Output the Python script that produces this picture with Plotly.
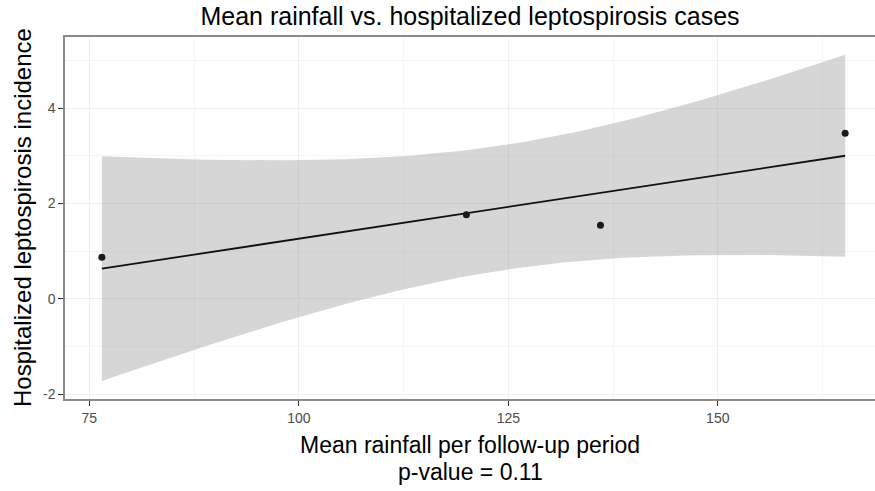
import numpy as np
import plotly.graph_objects as go

# Data
rainfall = [76.5, 120.0, 136.0, 165.2]
incidence = [0.87, 1.76, 1.54, 3.47]

x_ticks = [75, 100, 125, 150]
y_ticks = [-2, 0, 2, 4]

title_text = "Mean rainfall vs. hospitalized leptospirosis cases"
x_title_1 = "Mean rainfall per follow-up period"
x_title_2 = "p-value = 0.11"
y_title = "Hospitalized leptospirosis incidence"

# Linear model fit with 95% confidence band (as geom_smooth(method="lm"))
x = np.array(rainfall)
y = np.array(incidence)
n = len(x)
slope, intercept = np.polyfit(x, y, 1)
resid = y - (intercept + slope * x)
s = np.sqrt(np.sum(resid ** 2) / (n - 2))
sxx = np.sum((x - x.mean()) ** 2)
t_crit = 4.302653  # t(0.975, df=2)
xg = np.linspace(x.min(), x.max(), 80)
yg = intercept + slope * xg
se = s * np.sqrt(1 / n + (xg - x.mean()) ** 2 / sxx)
upper = yg + t_crit * se
lower = yg - t_crit * se

W, H = 875, 491
fig = go.Figure()
fig.add_trace(go.Scatter(
    x=np.concatenate([xg, xg[::-1]]), y=np.concatenate([upper, lower[::-1]]),
    fill="toself", fillcolor="rgba(153,153,153,0.4)", line=dict(width=0),
    mode="lines", hoverinfo="skip", showlegend=False))
fig.add_trace(go.Scatter(x=xg, y=yg, mode="lines",
                         line=dict(color="#111111", width=1.8), showlegend=False))
fig.add_trace(go.Scatter(x=rainfall, y=incidence, mode="markers",
                         marker=dict(color="#1a1a1a", size=7), showlegend=False))

FONT = "Liberation Sans, Arial, sans-serif"
axis_font = dict(family=FONT, size=14, color="#4D4D4D")
lab_font = dict(family=FONT, size=23, color="black")

fig.add_annotation(text=x_title_1, xref="paper", yref="paper", x=0.5, xanchor="center",
                   y=1 - (445 - 37) / (399 - 37), yanchor="middle", showarrow=False,
                   font=lab_font)
fig.add_annotation(text=x_title_2, xref="paper", yref="paper", x=0.5, xanchor="center",
                   y=1 - (472 - 37) / (399 - 37), yanchor="middle", showarrow=False,
                   font=lab_font)
fig.add_annotation(text=y_title, xref="paper", yref="paper", x=-(65 - 22) / (W - 65),
                   xanchor="center", y=0.5, yanchor="middle", textangle=-90,
                   showarrow=False, font=dict(family=FONT, size=24, color="black"))

fig.update_layout(
    width=W, height=H,
    margin=dict(l=65, r=0, t=37, b=92),
    paper_bgcolor="white", plot_bgcolor="white",
    font=dict(family=FONT, color="black"),
    title=dict(text=title_text, x=0.5, xanchor="center", xref="paper",
               y=1 - 16 / H, yref="container", yanchor="middle",
               font=dict(family=FONT, size=25, color="black")),
    xaxis=dict(range=[72.1, 168.76], tickvals=x_ticks, ticktext=[str(v) for v in x_ticks],
               showline=True, linecolor="#8a8a8a", linewidth=1.5, mirror=True,
               ticks="outside", ticklen=5, tickcolor="#333333", tickwidth=1.2,
               tickfont=axis_font, showgrid=True, gridcolor="#EFEFEF", gridwidth=1,
               minor=dict(dtick=12.5, tick0=87.5, showgrid=True, gridcolor="#F6F6F6"),
               zeroline=False),
    yaxis=dict(range=[-2.105, 5.49], tickvals=y_ticks, ticktext=[str(v) for v in y_ticks],
               showline=True, linecolor="#8a8a8a", linewidth=1.5, mirror=False,
               ticks="outside", ticklen=5, tickcolor="#333333", tickwidth=1.2,
               tickfont=axis_font, showgrid=True, gridcolor="#EFEFEF", gridwidth=1,
               minor=dict(dtick=1, tick0=-1, showgrid=True, gridcolor="#F6F6F6"),
               zeroline=False),
)

fig.write_html("out.html")
